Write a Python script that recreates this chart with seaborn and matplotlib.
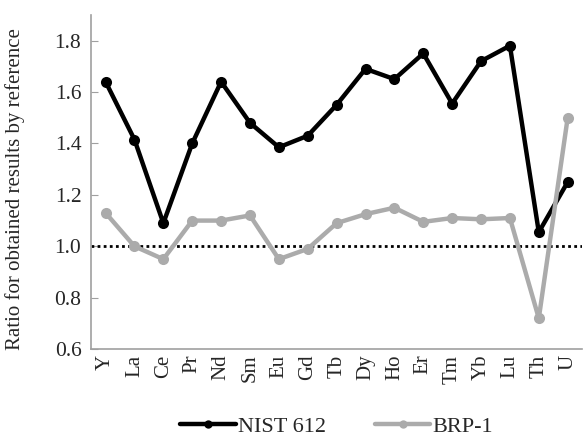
import pandas as pd
import seaborn as sns
import matplotlib.pyplot as plt

# === Data ===
elements = ["Y", "La", "Ce", "Pr", "Nd", "Sm", "Eu", "Gd", "Tb",
            "Dy", "Ho", "Er", "Tm", "Yb", "Lu", "Th", "U"]
nist612 = [1.64, 1.415, 1.09, 1.40, 1.64, 1.48, 1.385, 1.43, 1.55,
           1.69, 1.65, 1.75, 1.555, 1.72, 1.78, 1.055, 1.25]
brp1 = [1.13, 1.00, 0.95, 1.10, 1.10, 1.12, 0.95, 0.99, 1.09,
        1.125, 1.15, 1.095, 1.11, 1.105, 1.11, 0.72, 1.50]

df = pd.concat([
    pd.DataFrame({"element": elements, "ratio": nist612, "material": "NIST 612"}),
    pd.DataFrame({"element": elements, "ratio": brp1, "material": "BRP-1"}),
])

sns.set_style("white")
plt.rcParams["font.family"] = ["Liberation Serif", "DejaVu Serif"]

fig = plt.figure(figsize=(5.88, 4.37), dpi=100)
ax = fig.add_axes([0.155, 0.201, 0.835, 0.765])

sns.lineplot(data=df, x="element", y="ratio", hue="material", sort=False,
             palette={"NIST 612": "black", "BRP-1": "#ababab"},
             marker="o", markersize=8, markeredgewidth=0, linewidth=3.2,
             ax=ax)

ax.axhline(1.0, color="black", linestyle=(0, (1, 1.2)), linewidth=2, zorder=1)

ax.set_ylim(0.6, 1.9)
ax.set_yticks([0.6, 0.8, 1.0, 1.2, 1.4, 1.6, 1.8])
ax.set_yticklabels(["0.6", "0.8", "1.0", "1.2", "1.4", "1.6", "1.8"])
ax.set_xlim(-0.5, len(elements) - 0.5)
ax.tick_params(axis="x", labelrotation=90, labelsize=15, length=0, pad=4)
ax.tick_params(axis="y", labelsize=15.5, direction="in", length=5,
               color="#a0a0a0", left=True, pad=7)
ax.set_xlabel("")
ax.set_ylabel("Ratio for obtained results by reference", fontsize=15,
              labelpad=6)
ax.yaxis.set_label_coords(-0.135, 0.48)

for side in ["top", "right"]:
    ax.spines[side].set_visible(False)
for side in ["left", "bottom"]:
    ax.spines[side].set_color("#a0a0a0")
    ax.spines[side].set_linewidth(1.2)

handles, labels = ax.get_legend_handles_labels()
ax.legend(handles, labels, loc="lower center", bbox_to_anchor=(0.5, -0.29),
          ncol=2, frameon=False, fontsize=16, handlelength=2.5,
          markerscale=0.75, columnspacing=2.2, handletextpad=0.1,
          borderaxespad=0)

fig.savefig("out.png", dpi=100)
plt.close(fig)
